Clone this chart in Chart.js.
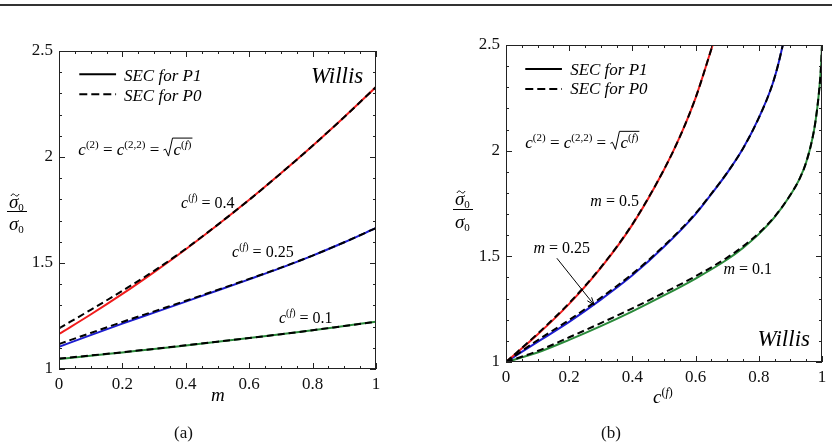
<!DOCTYPE html>
<html>
<head>
<meta charset="utf-8">
<script src="https://cdn.jsdelivr.net/npm/chart.js@4.4.0/dist/chart.umd.min.js"></script>
<style>
  html, body { margin: 0; padding: 0; background: #fff; }
  #wrap { position: relative; width: 832px; height: 448px; overflow: hidden; }
  #rule { position: absolute; left: 0; top: 4px; width: 832px; border-top: 2px solid #333; }
  canvas { position: absolute; top: 0; }
  #chartA { left: 0; }
  #chartB { left: 416px; }
  .cap { position: absolute; top: 423px; font: 17px "Liberation Serif", serif; color: #111; }
</style>
</head>
<body>
<div id="wrap">
  <div id="rule"></div>
  <canvas id="chartA" width="416" height="448"></canvas>
  <canvas id="chartB" width="416" height="448"></canvas>
  <div class="cap" style="left:174px">(a)</div>
  <div class="cap" style="left:601px">(b)</div>
</div>
<script>
// (a) normalised yield stress vs m, for three fibre fractions
const mValues = [0, 0.1, 0.2, 0.3, 0.4, 0.5, 0.6, 0.7, 0.8, 0.9, 1];
const a04P1  = [1.165, 1.257, 1.354, 1.457, 1.565, 1.679, 1.798, 1.923, 2.053, 2.189, 2.33];
const a04P0  = [1.192, 1.279, 1.369, 1.463, 1.567, 1.680, 1.798, 1.923, 2.053, 2.189, 2.33];
const a025P1 = [1.105, 1.160, 1.214, 1.266, 1.318, 1.370, 1.423, 1.477, 1.535, 1.598, 1.665];
const a025P0 = [1.118, 1.170, 1.222, 1.272, 1.322, 1.373, 1.425, 1.478, 1.535, 1.598, 1.665];
const a01P1  = [1.047, 1.062, 1.078, 1.094, 1.111, 1.128, 1.146, 1.164, 1.183, 1.203, 1.223];
const a01P0  = [1.049, 1.064, 1.079, 1.095, 1.112, 1.129, 1.146, 1.164, 1.183, 1.203, 1.223];

// (b) normalised yield stress vs c(f), for three values of m
const cM05   = [0, 0.1, 0.2, 0.3, 0.4, 0.5, 0.55, 0.6, 0.654];
const b05P1  = [1, 1.13, 1.275, 1.445, 1.65, 1.91, 2.065, 2.25, 2.5];
const b05P0  = [1, 1.134, 1.279, 1.448, 1.652, 1.911, 2.065, 2.25, 2.5];
const cM025  = [0, 0.1, 0.2, 0.3, 0.4, 0.5, 0.6, 0.65, 0.7, 0.75, 0.8, 0.84, 0.86, 0.876];
const b025P1 = [1, 1.095, 1.19, 1.295, 1.41, 1.545, 1.70, 1.795, 1.895, 2.01, 2.155, 2.30, 2.40, 2.5];
const b025P0 = [1, 1.103, 1.199, 1.304, 1.417, 1.55, 1.703, 1.797, 1.896, 2.01, 2.155, 2.30, 2.40, 2.5];
const cM01   = [0, 0.1, 0.2, 0.3, 0.4, 0.5, 0.6, 0.7, 0.75, 0.8, 0.85, 0.9, 0.93, 0.95, 0.97, 0.98, 0.99, 0.997, 1];
const b01P1  = [1, 1.045, 1.105, 1.17, 1.24, 1.315, 1.395, 1.485, 1.54, 1.605, 1.685, 1.79, 1.87, 1.945, 2.06, 2.145, 2.27, 2.40, 2.5];
const b01P0  = [1, 1.052, 1.117, 1.184, 1.254, 1.328, 1.406, 1.494, 1.547, 1.61, 1.688, 1.791, 1.87, 1.945, 2.06, 2.145, 2.27, 2.40, 2.5];

const xTicks = [0, 0.2, 0.4, 0.6, 0.8, 1];
const yTicks = [1, 1.5, 2, 2.5];

const RED = '#f01c1c', BLUE = '#1c1cd0', GREEN = '#2a8a3a';
const SERIF = '"Liberation Serif", "Times New Roman", serif';

function pts(xs, ys) { return xs.map((x, i) => ({ x: x, y: ys[i] })); }

function solid(xs, ys, color) {
  return { data: pts(xs, ys), borderColor: color, borderWidth: 2, pointRadius: 0,
           cubicInterpolationMode: 'monotone', order: 1 };
}
function dashed(xs, ys) {
  return { data: pts(xs, ys), borderColor: '#000', borderWidth: 2, borderDash: [7, 4], pointRadius: 0,
           cubicInterpolationMode: 'monotone', order: 0 };
}

// writes a row of text pieces [text, size, style, dy] starting at x
function runs(ctx, x, y, parts) {
  ctx.textAlign = 'left';
  ctx.textBaseline = 'alphabetic';
  for (const [t, size, style, dy] of parts) {
    ctx.font = (style ? style + ' ' : '') + size + 'px ' + SERIF;
    ctx.fillText(t, x, y + (dy || 0));
    x += ctx.measureText(t).width;
  }
  return x;
}
function width(ctx, parts) {
  let w = 0;
  for (const [t, size, style] of parts) {
    ctx.font = (style ? style + ' ' : '') + size + 'px ' + SERIF;
    w += ctx.measureText(t).width;
  }
  return w;
}
const cf = (s, sup) => [['c', s, 'italic'], ['(', sup, '', -7], ['f', sup, 'italic', -7], [')', sup, '', -7]];

// frame with inward ticks on all four sides
const frame = {
  id: 'frame',
  afterDatasetsDraw(chart) {
    const { ctx, chartArea: a, scales } = chart;
    ctx.save();
    ctx.strokeStyle = '#222';
    ctx.lineWidth = 1;
    ctx.setLineDash([]);
    ctx.strokeRect(a.left + 0.5, a.top + 0.5, a.width - 1, a.height - 1);
    ctx.beginPath();
    for (let i = 0; i <= 20; i++) {
      const px = Math.round(scales.x.getPixelForValue(i / 20)) + 0.5;
      const len = i % 4 === 0 ? 6 : 3;
      ctx.moveTo(px, a.bottom); ctx.lineTo(px, a.bottom - len);
      ctx.moveTo(px, a.top); ctx.lineTo(px, a.top + len);
    }
    for (let i = 0; i <= 15; i++) {
      const py = Math.round(scales.y.getPixelForValue(1 + i / 10)) + 0.5;
      const len = i % 5 === 0 ? 6 : 3;
      ctx.moveTo(a.left, py); ctx.lineTo(a.left + len, py);
      ctx.moveTo(a.right, py); ctx.lineTo(a.right - len, py);
    }
    ctx.stroke();
    ctx.restore();
  }
};

function legend(ctx, X, Y, x0, x1, xt, v1, v2, t1, t2) {
  ctx.strokeStyle = '#000';
  ctx.lineWidth = 2;
  ctx.setLineDash([]);
  ctx.beginPath(); ctx.moveTo(X(x0), Y(v1)); ctx.lineTo(X(x1), Y(v1)); ctx.stroke();
  ctx.setLineDash([8, 4]);
  ctx.beginPath(); ctx.moveTo(X(x0), Y(v2)); ctx.lineTo(X(x1), Y(v2)); ctx.stroke();
  ctx.setLineDash([]);
  runs(ctx, X(xt), Y(t1), [['SEC for P1', 17, 'italic']]);
  runs(ctx, X(xt), Y(t2), [['SEC for P0', 17, 'italic']]);
}

function formula(ctx, x, y) {
  const s = 17, sup = 11;
  x = runs(ctx, x, y, [['c', s, 'italic'], ['(2)', sup, '', -7], [' = ', s], ['c', s, 'italic'], ['(2,2)', sup, '', -7], [' = ', s]]);
  const rad = cf(s, sup);
  const w = width(ctx, rad);
  ctx.strokeStyle = '#000';
  ctx.lineWidth = 1;
  ctx.beginPath();
  ctx.moveTo(x, y - 5); ctx.lineTo(x + 2, y - 6); ctx.lineTo(x + 5, y + 1);
  ctx.lineTo(x + 9, y - 17); ctx.lineTo(x + 10 + w + 1, y - 17);
  ctx.stroke();
  runs(ctx, x + 10, y, rad);
}

function tilde(ctx, cx, cy) {
  ctx.beginPath();
  ctx.moveTo(cx - 4, cy + 1);
  ctx.bezierCurveTo(cx - 2.5, cy - 2, cx - 1, cy - 1, cx, cy);
  ctx.bezierCurveTo(cx + 1, cy + 1, cx + 2.5, cy + 2, cx + 4, cy - 1);
  ctx.stroke();
}

function fraction(ctx, x0, x1, yNum, yBar, yDen) {
  const cx = (x0 + x1) / 2;
  ctx.fillStyle = '#000';
  ctx.strokeStyle = '#000';
  ctx.lineWidth = 1;
  runs(ctx, cx - 8, yNum, [['σ', 19, 'italic'], ['0', 11, '', 3]]);
  tilde(ctx, cx - 2, yNum - 13);
  runs(ctx, cx - 8, yDen, [['σ', 19, 'italic'], ['0', 11, '', 3]]);
  ctx.beginPath(); ctx.moveTo(x0, yBar + 0.5); ctx.lineTo(x1, yBar + 0.5); ctx.stroke();
}

const decoA = {
  id: 'decoA',
  afterDraw(chart) {
    const { ctx, scales } = chart;
    const X = v => scales.x.getPixelForValue(v), Y = v => scales.y.getPixelForValue(v);
    ctx.save();
    ctx.fillStyle = '#000';
    legend(ctx, X, Y, 0.064, 0.18, 0.205, 2.39, 2.296, 2.358, 2.264);
    ctx.font = 'italic 23px ' + SERIF;
    ctx.textAlign = 'right';
    ctx.fillText('Willis', X(0.96), Y(2.35));
    formula(ctx, X(0.061), Y(2.009));
    runs(ctx, X(0.385), Y(1.758), cf(16, 10).concat([[' = 0.4', 16]]));
    runs(ctx, X(0.546), Y(1.528), cf(16, 10).concat([[' = 0.25', 16]]));
    runs(ctx, X(0.694), Y(1.217), cf(16, 10).concat([[' = 0.1', 16]]));
    runs(ctx, 211, 401, [['m', 19, 'italic']]);
    fraction(ctx, 7, 27, 208, 211, 230);
    ctx.restore();
  }
};

const decoB = {
  id: 'decoB',
  afterDraw(chart) {
    const { ctx, scales } = chart;
    const X = v => scales.x.getPixelForValue(v), Y = v => scales.y.getPixelForValue(v);
    ctx.save();
    ctx.fillStyle = '#000';
    legend(ctx, X, Y, 0.061, 0.177, 0.203, 2.387, 2.292, 2.358, 2.267);
    formula(ctx, X(0.061), Y(2.011));
    runs(ctx, X(0.267), Y(1.74), [['m', 16, 'italic'], [' = 0.5', 16]]);
    runs(ctx, X(0.087), Y(1.517), [['m', 16, 'italic'], [' = 0.25', 16]]);
    runs(ctx, X(0.688), Y(1.415), [['m', 16, 'italic'], [' = 0.1', 16]]);
    // arrow to the m = 0.25 curve
    const x1 = X(0.161), y1 = Y(1.491), x2 = X(0.279), y2 = Y(1.27);
    const ang = Math.atan2(y2 - y1, x2 - x1);
    ctx.strokeStyle = '#000';
    ctx.lineWidth = 1;
    ctx.beginPath();
    ctx.moveTo(x1, y1); ctx.lineTo(x2, y2);
    ctx.moveTo(x2 - 8 * Math.cos(ang - 0.35), y2 - 8 * Math.sin(ang - 0.35));
    ctx.lineTo(x2, y2);
    ctx.lineTo(x2 - 8 * Math.cos(ang + 0.35), y2 - 8 * Math.sin(ang + 0.35));
    ctx.stroke();
    ctx.font = 'italic 23px ' + SERIF;
    ctx.textAlign = 'right';
    ctx.fillText('Willis', X(0.962), Y(1.076));
    runs(ctx, 237, 403, cf(19, 12));
    fraction(ctx, 37, 57, 205, 209, 228);
    ctx.restore();
  }
};

function makeChart(id, datasets, pad, deco) {
  const tickFont = { family: SERIF, size: 17 };
  return new Chart(document.getElementById(id), {
    type: 'line',
    data: { datasets: datasets },
    options: {
      responsive: false,
      animation: false,
      layout: { padding: pad },
      plugins: { legend: { display: false }, tooltip: { enabled: false } },
      scales: {
        x: {
          type: 'linear', min: 0, max: 1,
          grid: { display: false, drawTicks: false },
          border: { display: false },
          afterBuildTicks: s => { s.ticks = xTicks.map(v => ({ value: v })); },
          afterFit: s => { s.height = 30; },
          ticks: { padding: 5, color: '#111', font: tickFont, maxRotation: 0, autoSkip: false,
                   callback: v => String(v) }
        },
        y: {
          type: 'linear', min: 1, max: 2.5,
          grid: { display: false, drawTicks: false },
          border: { display: false },
          afterBuildTicks: s => { s.ticks = yTicks.map(v => ({ value: v })); },
          afterFit: s => { s.width = 40; },
          ticks: { padding: 6, color: '#111', font: tickFont, autoSkip: false,
                   callback: v => String(v) }
        }
      }
    },
    plugins: [frame, deco]
  });
}

function drawAll() {
  makeChart('chartA', [
    dashed(mValues, a04P0), dashed(mValues, a025P0), dashed(mValues, a01P0),
    solid(mValues, a04P1, RED), solid(mValues, a025P1, BLUE), solid(mValues, a01P1, GREEN)
  ], { left: 19, right: 40, top: 51, bottom: 49 }, decoA);

  makeChart('chartB', [
    dashed(cM05, b05P0), dashed(cM025, b025P0), dashed(cM01, b01P0),
    solid(cM05, b05P1, RED), solid(cM025, b025P1, BLUE), solid(cM01, b01P1, GREEN)
  ], { left: 50, right: 10, top: 45, bottom: 56 }, decoB);
}

Promise.all([
  document.fonts.load('17px "Liberation Serif"'),
  document.fonts.load('italic 17px "Liberation Serif"')
]).then(drawAll, drawAll);
</script>
</body>
</html>
